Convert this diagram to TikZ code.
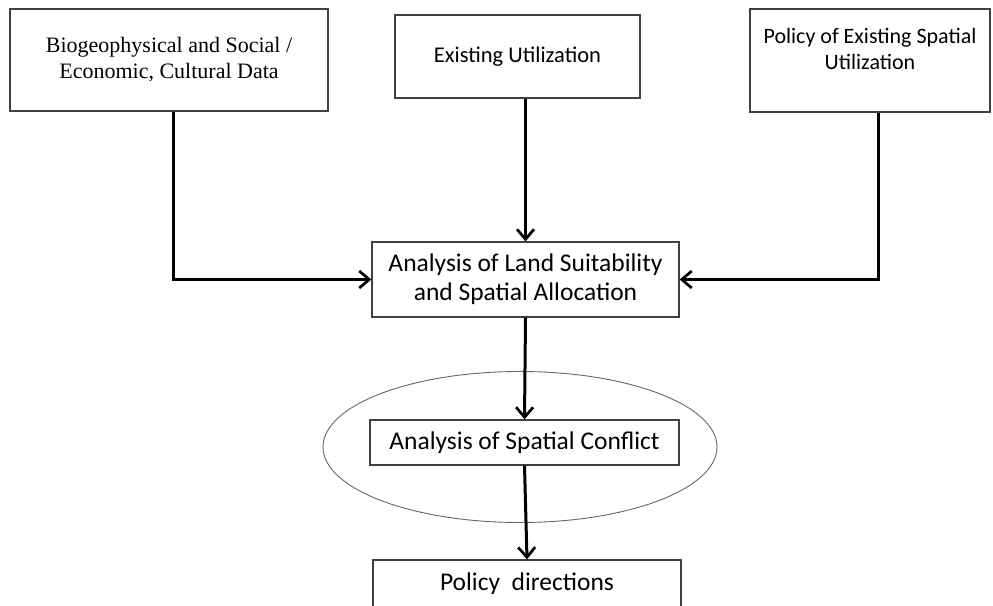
\documentclass[tikz,border=0pt]{standalone}
\usepackage{fontspec}
\setmainfont{Carlito}
\newfontfamily\timesfont{Liberation Serif}
\usetikzlibrary{arrows.meta,shapes.geometric}

\tikzset{
  box/.style={draw=black!75, line width=1.3pt, fill=white, inner sep=0pt, align=center},
  flow/.style={line width=3pt, -{Straight Barb[length=10pt,width=17pt,line width=2.7pt]}},
}

\begin{document}
\begin{tikzpicture}[x=1pt, y=-1pt]
		%%%%% START %%%%%
		\useasboundingbox (0,0) rectangle (993,605);
		\clip (0,0) rectangle (993,605);
		
		% sources
		\node[box, minimum width=318pt, minimum height=102pt, font=\timesfont\fontsize{22}{26}\selectfont] (bio) at (169,60) {Biogeophysical and Social /\\Economic, Cultural Data};
		\node[box, minimum width=245pt, minimum height=83pt, font=\fontsize{22.5}{26}\selectfont] (exist) at (517.5,56.5) {Existing Utilization};
		\node[box, minimum width=240pt, minimum height=103pt] (pol) at (870,60.5) {};
		\node[anchor=north, inner sep=0pt, align=center, font=\fontsize{22}{26}\selectfont] (poltxt) at (870,28) {Policy of Existing Spatial\\Utilization};
		
		% analysis
		\node[box, minimum width=307pt, minimum height=75pt, font=\fontsize{25.5}{29}\selectfont] (suit) at (525.5,279.5) {Analysis of Land Suitability\\and Spatial Allocation};
		
		\node[draw=black!60, line width=0.9pt, ellipse, minimum width=394pt, minimum height=151pt, inner sep=0pt] (ring) at (520,447) {};
		\node[box, minimum width=309pt, minimum height=45pt, font=\fontsize{25.5}{29}\selectfont] (confl) at (524.5,442.5) {Analysis of Spatial Conflict};
		
		\node[box, minimum width=308pt, minimum height=48pt, font=\fontsize{25.5}{29}\selectfont] (dir) at (527,584) {Policy\ \ directions};
		
		% connectors
		\draw[flow] ([xshift=4pt]bio.south) |- (suit.west);
		\draw[flow] (exist.south -| suit.north) -- (suit.north);
		\draw[flow] ([xshift=8pt]pol.south) |- (suit.east);
		\draw[flow] (suit.south) -- (confl.north);
		\draw[flow] (confl.south) -- (dir.north);
		
		%%%%% END %%%%%
	\end{tikzpicture}
\end{document}
